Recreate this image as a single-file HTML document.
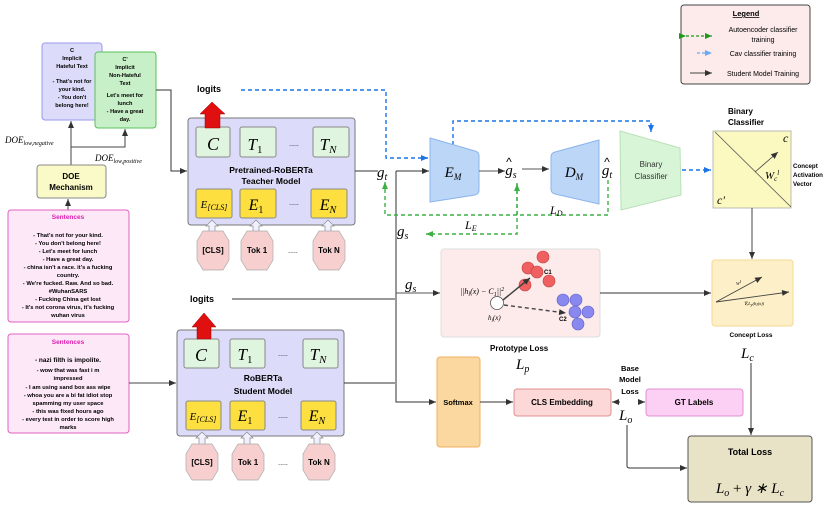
<!DOCTYPE html>
<html><head><meta charset="utf-8"><style>
html,body{margin:0;padding:0;background:#fff;}
svg{display:block;font-family:"Liberation Sans",sans-serif;}
.b{font-weight:bold;}
.m{font-family:"Liberation Serif",serif;font-style:italic;}
</style></head><body>
<svg width="831" height="509" viewBox="0 0 831 509" xmlns="http://www.w3.org/2000/svg">
<defs>
<marker id="ak" markerWidth="8" markerHeight="8" refX="7" refY="4" orient="auto" markerUnits="userSpaceOnUse"><path d="M0,1 L7,4 L0,7z" fill="#333"/></marker>
<marker id="ab" markerWidth="8" markerHeight="8" refX="7" refY="4" orient="auto" markerUnits="userSpaceOnUse"><path d="M0,1 L7,4 L0,7z" fill="#1a73e8"/></marker>
<marker id="ag" markerWidth="8" markerHeight="8" refX="7" refY="4" orient="auto" markerUnits="userSpaceOnUse"><path d="M0,1 L7,4 L0,7z" fill="#3cb043"/></marker>
<marker id="agd" markerWidth="8" markerHeight="8" refX="7" refY="4" orient="auto" markerUnits="userSpaceOnUse"><path d="M0,1 L7,4 L0,7z" fill="#1a9a1a"/></marker>
<marker id="alb" markerWidth="8" markerHeight="8" refX="7" refY="4" orient="auto" markerUnits="userSpaceOnUse"><path d="M0,1 L7,4 L0,7z" fill="#6aaaf0"/></marker>
</defs>

<!-- Legend -->
<rect x="681" y="5" width="129" height="79" rx="3" fill="#fdeaea" stroke="#444" stroke-width="1"/>
<text x="746" y="16" font-size="7.5" class="b" text-anchor="middle" text-decoration="underline">Legend</text>
<line x1="686" y1="36" x2="712" y2="36" stroke="#1a9a1a" stroke-width="1.3" stroke-dasharray="3,2" marker-end="url(#agd)" marker-start="url(#agd)"/>
<text x="763" y="32" font-size="7" text-anchor="middle">Autoencoder classifier</text>
<text x="763" y="42" font-size="7" text-anchor="middle">training</text>
<line x1="697" y1="53" x2="712" y2="53" stroke="#6aaaf0" stroke-width="1.3" stroke-dasharray="3,2" marker-end="url(#alb)"/>
<text x="763" y="56" font-size="7" text-anchor="middle">Cav classifier training</text>
<line x1="690" y1="73" x2="712" y2="73" stroke="#444" stroke-width="1" marker-end="url(#ak)"/>
<text x="763" y="76" font-size="7" text-anchor="middle">Student Model Training</text>

<!-- C / C' boxes -->
<rect x="42" y="43" width="60" height="77" rx="3" fill="#dcdcfa" stroke="#9a9aee" stroke-width="1"/>
<g font-size="5.6" class="b" text-anchor="middle">
<text x="72" y="52">C</text><text x="72" y="60">Implicit</text><text x="72" y="68">Hateful Text</text>
<text x="72" y="83">- That's not for</text><text x="72" y="91">your kind.</text><text x="72" y="99">- You don't</text><text x="72" y="107">belong here!</text>
</g>
<rect x="95" y="52" width="61" height="76" rx="3" fill="#c8f0c8" stroke="#5ac05a" stroke-width="1"/>
<g font-size="5.6" class="b" text-anchor="middle">
<text x="125" y="61">C'</text><text x="125" y="69">Implicit</text><text x="125" y="77">Non-Hateful</text><text x="125" y="85">Text</text>
<text x="125" y="97">Let's meet for</text><text x="125" y="105">lunch</text><text x="125" y="113">- Have a great</text><text x="125" y="121">day.</text>
</g>
<text x="5" y="143" font-size="9" class="m">DOE<tspan font-size="6" dy="2">low,negative</tspan></text>
<text x="95" y="161" font-size="9" class="m">DOE<tspan font-size="6" dy="2">low,positive</tspan></text>
<path d="M71,165 L71,121" stroke="#444" fill="none" marker-end="url(#ak)"/>
<path d="M71,147 L125,147 L125,129" stroke="#444" fill="none" marker-end="url(#ak)"/>
<path d="M156,90 L171,90 L171,171 L187,171" stroke="#333" fill="none" marker-end="url(#ak)"/>

<rect x="37" y="165" width="69" height="33" rx="3" fill="#fafac8" stroke="#888" stroke-width="1"/>
<text x="71" y="179" font-size="8" class="b" text-anchor="middle">DOE</text>
<text x="71" y="190" font-size="8" class="b" text-anchor="middle">Mechanism</text>
<path d="M68,210 L68,199" stroke="#444" fill="none" marker-end="url(#ak)"/>

<!-- Sentences 1 -->
<rect x="8" y="210" width="121" height="112" rx="3" fill="#fde8f8" stroke="#e060c0" stroke-width="1"/>
<g font-size="5.8" class="b" text-anchor="middle">
<text x="68" y="219" fill="#e020b0" font-size="6.5">Sentences</text>
<text x="68" y="237">- That's not for your kind.</text>
<text x="68" y="245">- You don't belong here!</text>
<text x="68" y="253">- Let's meet for lunch</text>
<text x="68" y="261">- Have a great day.</text>
<text x="68" y="269">- china isn't a race. it's a fucking</text>
<text x="68" y="277">country.</text>
<text x="68" y="285">- We're fucked. Raw. And so bad.</text>
<text x="68" y="293">#WuhanSARS</text>
<text x="68" y="301">- Fucking China get lost</text>
<text x="68" y="309">- It's not corona virus, it's fucking</text>
<text x="68" y="317">wuhan virus</text>
</g>
<!-- Sentences 2 -->
<rect x="8" y="334" width="121" height="99" rx="3" fill="#fde8f8" stroke="#e060c0" stroke-width="1"/>
<g font-size="5.8" class="b" text-anchor="middle">
<text x="68" y="344" fill="#e020b0" font-size="6.5">Sentences</text>
<text x="68" y="362" font-size="6.5">- nazi filth  is impolite.</text>
<text x="68" y="372">- wow   that was fast   i m</text>
<text x="68" y="380">impressed</text>
<text x="68" y="389">- I am using sand box ass wipe</text>
<text x="68" y="397">- whoa    you are a bi fat idiot  stop</text>
<text x="68" y="405">spamming my user space</text>
<text x="68" y="413">- this was fixed hours ago</text>
<text x="68" y="421">- every test in order to score high</text>
<text x="68" y="429">marks</text>
</g>
<path d="M129,383 L176,383" stroke="#444" fill="none" marker-end="url(#ak)"/>

<!-- Teacher -->
<rect x="188" y="118" width="167" height="107" rx="3" fill="#dcdcfa" stroke="#777" stroke-width="1"/>
<rect x="196" y="127" width="34" height="30" rx="2" fill="#e0f5e0" stroke="#888"/>
<rect x="240" y="127" width="36" height="30" rx="2" fill="#e0f5e0" stroke="#888"/>
<rect x="313" y="127" width="36" height="30" rx="2" fill="#e0f5e0" stroke="#888"/>
<text x="213" y="150" font-size="18" class="m" text-anchor="middle">C</text>
<text x="255" y="150" font-size="17" class="m" text-anchor="middle">T<tspan font-size="11" font-style="normal" dy="3">1</tspan></text>
<text x="328" y="150" font-size="17" class="m" text-anchor="middle">T<tspan font-size="11" dy="3">N</tspan></text>
<text x="294" y="146" font-size="7" text-anchor="middle">.....</text>
<text x="271" y="173" font-size="8.5" class="b" text-anchor="middle">Pretrained-RoBERTa</text>
<text x="271" y="184" font-size="8.5" class="b" text-anchor="middle">Teacher Model</text>
<rect x="196" y="189" width="36" height="29" rx="2" fill="#fde040" stroke="#888"/>
<rect x="240" y="189" width="36" height="29" rx="2" fill="#fde040" stroke="#888"/>
<rect x="311" y="189" width="36" height="29" rx="2" fill="#fde040" stroke="#888"/>
<text x="214" y="208" font-size="11" class="m" text-anchor="middle">E<tspan font-size="8" dy="2">[CLS]</tspan></text>
<text x="256" y="210" font-size="16" class="m" text-anchor="middle">E<tspan font-size="10" font-style="normal" dy="3">1</tspan></text>
<text x="328" y="210" font-size="16" class="m" text-anchor="middle">E<tspan font-size="10" dy="3">N</tspan></text>
<text x="294" y="205" font-size="7" text-anchor="middle">.....</text>
<path d="M205,128 L205,114 L200,114 L212,102 L225,114 L220,114 L220,128z" fill="#e01010" stroke="#900" stroke-width="0.5"/>
<text x="197" y="92" font-size="9" class="b">logits</text>
<!-- teacher tokens -->
<path d="M209,234 l0,-8 -3,0 6,-6 6,6 -3,0 0,8z" fill="#f0f0ff" stroke="#888" stroke-width="0.7"/>
<path d="M253,234 l0,-8 -3,0 6,-6 6,6 -3,0 0,8z" fill="#f0f0ff" stroke="#888" stroke-width="0.7"/>
<path d="M325,234 l0,-8 -3,0 6,-6 6,6 -3,0 0,8z" fill="#f0f0ff" stroke="#888" stroke-width="0.7"/>
<path d="M203,231 l20,0 6,10 0,19 -6,10 -20,0 -6,-10 0,-19z" fill="#f7cfcf" stroke="#aaa" stroke-width="0.7"/>
<path d="M247,231 l20,0 6,10 0,19 -6,10 -20,0 -6,-10 0,-19z" fill="#f7cfcf" stroke="#aaa" stroke-width="0.7"/>
<path d="M319,231 l20,0 6,10 0,19 -6,10 -20,0 -6,-10 0,-19z" fill="#f7cfcf" stroke="#aaa" stroke-width="0.7"/>
<text x="213" y="253" font-size="8" class="b" text-anchor="middle">[CLS]</text>
<text x="257" y="253" font-size="8" class="b" text-anchor="middle">Tok 1</text>
<text x="329" y="253" font-size="8" class="b" text-anchor="middle">Tok N</text>
<text x="293" y="253" font-size="7" text-anchor="middle">.....</text>

<!-- Student -->
<rect x="177" y="330" width="167" height="106" rx="3" fill="#dcdcfa" stroke="#777" stroke-width="1"/>
<rect x="184" y="339" width="35" height="29" rx="2" fill="#e0f5e0" stroke="#888"/>
<rect x="230" y="339" width="35" height="29" rx="2" fill="#e0f5e0" stroke="#888"/>
<rect x="303" y="339" width="35" height="29" rx="2" fill="#e0f5e0" stroke="#888"/>
<text x="201" y="361" font-size="18" class="m" text-anchor="middle">C</text>
<text x="245" y="360" font-size="17" class="m" text-anchor="middle">T<tspan font-size="11" font-style="normal" dy="3">1</tspan></text>
<text x="318" y="360" font-size="17" class="m" text-anchor="middle">T<tspan font-size="11" dy="3">N</tspan></text>
<text x="283" y="356" font-size="7" text-anchor="middle">.....</text>
<text x="263" y="381" font-size="8.5" class="b" text-anchor="middle">RoBERTa</text>
<text x="263" y="394" font-size="8.5" class="b" text-anchor="middle">Student Model</text>
<rect x="186" y="401" width="35" height="29" rx="2" fill="#fde040" stroke="#888"/>
<rect x="230" y="401" width="35" height="29" rx="2" fill="#fde040" stroke="#888"/>
<rect x="301" y="401" width="35" height="29" rx="2" fill="#fde040" stroke="#888"/>
<text x="203" y="420" font-size="11" class="m" text-anchor="middle">E<tspan font-size="8" dy="2">[CLS]</tspan></text>
<text x="245" y="421" font-size="16" class="m" text-anchor="middle">E<tspan font-size="10" font-style="normal" dy="3">1</tspan></text>
<text x="317" y="421" font-size="16" class="m" text-anchor="middle">E<tspan font-size="10" dy="3">N</tspan></text>
<text x="283" y="418" font-size="7" text-anchor="middle">.....</text>
<path d="M197,339 L197,327 L192,327 L204,313 L216,327 L211,327 L211,339z" fill="#e01010" stroke="#900" stroke-width="0.5"/>
<text x="190" y="302" font-size="9" class="b">logits</text>
<path d="M199,446 l0,-8 -3,0 6,-6 6,6 -3,0 0,8z" fill="#f0f0ff" stroke="#888" stroke-width="0.7"/>
<path d="M244,446 l0,-8 -3,0 6,-6 6,6 -3,0 0,8z" fill="#f0f0ff" stroke="#888" stroke-width="0.7"/>
<path d="M314,446 l0,-8 -3,0 6,-6 6,6 -3,0 0,8z" fill="#f0f0ff" stroke="#888" stroke-width="0.7"/>
<path d="M192,444 l20,0 6,10 0,16 -6,10 -20,0 -6,-10 0,-16z" fill="#f7cfcf" stroke="#aaa" stroke-width="0.7"/>
<path d="M238,444 l20,0 6,10 0,16 -6,10 -20,0 -6,-10 0,-16z" fill="#f7cfcf" stroke="#aaa" stroke-width="0.7"/>
<path d="M309,444 l20,0 6,10 0,16 -6,10 -20,0 -6,-10 0,-16z" fill="#f7cfcf" stroke="#aaa" stroke-width="0.7"/>
<text x="202" y="465" font-size="8" class="b" text-anchor="middle">[CLS]</text>
<text x="248" y="465" font-size="8" class="b" text-anchor="middle">Tok 1</text>
<text x="319" y="465" font-size="8" class="b" text-anchor="middle">Tok N</text>
<text x="283" y="465" font-size="7" text-anchor="middle">.....</text>

<!-- connectors middle -->
<path d="M355,171 L378,171" stroke="#333" fill="none"/>
<text x="377" y="177" font-size="15" class="m">g<tspan font-size="10" dy="3">t</tspan></text>
<path d="M396,171 L429,171" stroke="#333" fill="none" marker-end="url(#ak)"/>
<path d="M396,171 L396,402 L436,402" stroke="#333" fill="none" marker-end="url(#ak)"/>
<path d="M232,299 L395,299" stroke="#333" fill="none"/>
<path d="M344,383 L395,383" stroke="#333" fill="none"/>
<path d="M396,293 L440,293" stroke="#555" fill="none" marker-end="url(#ak)"/>
<text x="405" y="289" font-size="15" class="m">g<tspan font-size="10" dy="3">s</tspan></text>
<text x="397" y="236" font-size="15" class="m">g<tspan font-size="10" dy="3">s</tspan></text>

<!-- blue dashed -->
<path d="M241,90 L386,90 L386,158 L428,158" stroke="#1a73e8" stroke-width="1.4" stroke-dasharray="4,3" fill="none" marker-end="url(#ab)"/>
<path d="M453,145 L453,121 L651,121 L651,132" stroke="#1a73e8" stroke-width="1.4" stroke-dasharray="4,3" fill="none" marker-end="url(#ab)"/>
<path d="M682,170 L711,170" stroke="#1a73e8" stroke-width="1.4" stroke-dasharray="4,3" fill="none" marker-end="url(#ab)"/>

<!-- green dashed -->
<path d="M608,180 L608,215 L385,215 L385,182" stroke="#3cb043" stroke-width="1.4" stroke-dasharray="4,3" fill="none" marker-end="url(#ag)"/>
<path d="M517,183 L517,234 L426,234" stroke="#3cb043" stroke-width="1.4" stroke-dasharray="4,3" fill="none" marker-end="url(#ag)"/>
<path d="M517,215 L517,184" stroke="#3cb043" stroke-width="1.4" stroke-dasharray="4,3" fill="none" marker-end="url(#ag)"/>
<text x="550" y="214" font-size="12" class="m">L<tspan font-size="8" dy="2">D</tspan></text>
<text x="465" y="229" font-size="12" class="m">L<tspan font-size="8" dy="2">E</tspan></text>

<!-- Encoder / decoder -->
<path d="M430,138 L475,151 Q479,152 479,156 L479,190 Q479,194 475,195 L430,202z" fill="#bcd6f7" stroke="#8ab4ec" stroke-width="1"/>
<text x="453" y="177" font-size="15" class="m" text-anchor="middle">E<tspan font-size="9" dy="3">M</tspan></text>
<path d="M479,171 L505,171" stroke="#555" fill="none" marker-end="url(#ak)"/>
<text x="511" y="175" font-size="15" class="m" text-anchor="middle">g<tspan font-size="10" dy="3">s</tspan></text>
<text x="509" y="166" font-size="12" text-anchor="middle">^</text>
<path d="M522,169 L549,169" stroke="#555" fill="none" marker-end="url(#ak)"/>
<path d="M599,140 L555,152 Q551,153 551,157 L551,189 Q551,193 555,194 L599,204z" fill="#bcd6f7" stroke="#8ab4ec" stroke-width="1"/>
<text x="574" y="177" font-size="15" class="m" text-anchor="middle">D<tspan font-size="9" dy="3">M</tspan></text>
<text x="607" y="175" font-size="15" class="m" text-anchor="middle">g<tspan font-size="10" dy="3">t</tspan></text>
<text x="607" y="166" font-size="12" text-anchor="middle">^</text>

<!-- Binary classifier -->
<path d="M620,131 L680,148 L681,195 L621,210z" fill="#d8f5d8" stroke="#b8e0b8" stroke-width="1"/>
<text x="651" y="167" font-size="8" fill="#333" text-anchor="middle">Binary</text>
<text x="651" y="179" font-size="8" fill="#333" text-anchor="middle">Classifier</text>

<!-- yellow square -->
<text x="728" y="114" font-size="8" class="b">Binary</text>
<text x="728" y="125" font-size="8" class="b">Classifier</text>
<rect x="713" y="131" width="78" height="77" fill="#fbf8c0" stroke="#aaa" stroke-width="0.8"/>
<line x1="715" y1="132" x2="791" y2="207" stroke="#555" stroke-width="0.8"/>
<line x1="755" y1="172" x2="778" y2="152" stroke="#444" stroke-width="0.8" marker-end="url(#ak)"/>
<text x="765" y="179" font-size="11" class="m">W<tspan font-size="7" dy="2">c</tspan><tspan font-size="7" dy="-6">l</tspan></text>
<text x="783" y="142" font-size="12" class="m">c</text>
<text x="717" y="204" font-size="12" class="m">c'</text>
<text x="793" y="168" font-size="6.2" class="b">Concept</text>
<text x="793" y="177" font-size="6.2" class="b">Activation</text>
<text x="793" y="186" font-size="6.2" class="b">Vector</text>
<path d="M752,208 L752,259" stroke="#444" fill="none" marker-end="url(#ak)"/>

<!-- Prototype -->
<rect x="441" y="249" width="159" height="88" rx="3" fill="#fdeaea" stroke="#ddd" stroke-width="1"/>
<text x="460" y="294" font-size="8" class="m">||h<tspan font-size="6" dy="2">l</tspan><tspan dy="-2">(x) − C</tspan><tspan font-size="6" dy="2">1</tspan><tspan dy="-2">||</tspan><tspan font-size="6" dy="-3">2</tspan></text>
<g fill="#f06060" stroke="#c04040" stroke-width="0.6">
<circle cx="543" cy="257" r="6"/><circle cx="528" cy="268" r="6"/><circle cx="537" cy="272" r="6"/><circle cx="549" cy="281" r="6"/><circle cx="525" cy="285" r="6"/>
</g>
<g fill="#8888f0" stroke="#6060c0" stroke-width="0.6">
<circle cx="563" cy="300" r="6"/><circle cx="576" cy="300" r="6"/><circle cx="575" cy="312" r="6"/><circle cx="588" cy="312" r="6"/><circle cx="578" cy="324" r="6"/>
</g>
<text x="544" y="274" font-size="6" class="b">C1</text>
<text x="559" y="321" font-size="6" class="b">C2</text>
<circle cx="497" cy="303" r="6.5" fill="#fff" stroke="#444" stroke-width="0.7"/>
<line x1="503" y1="300" x2="530" y2="278" stroke="#444" stroke-width="1.5" marker-end="url(#ak)"/>
<line x1="504" y1="305" x2="566" y2="313" stroke="#444" stroke-width="1.4" stroke-dasharray="4,3" marker-end="url(#ak)"/>
<text x="488" y="320" font-size="7" class="m">h<tspan font-size="5" dy="2">l</tspan><tspan dy="-2">(x)</tspan></text>
<text x="490" y="351" font-size="8" class="b">Prototype Loss</text>
<text x="516" y="369" font-size="15" class="m">L<tspan font-size="10" dy="3">p</tspan></text>
<path d="M600,293 L711,293" stroke="#333" fill="none" marker-end="url(#ak)"/>

<!-- Concept loss -->
<rect x="712" y="260" width="81" height="66" rx="3" fill="#fdf0c8" stroke="#f5d890" stroke-width="1"/>
<line x1="716" y1="302" x2="762" y2="277" stroke="#444" stroke-width="0.9" marker-end="url(#ak)"/>
<line x1="716" y1="302" x2="789" y2="292" stroke="#444" stroke-width="0.9" marker-end="url(#ak)"/>
<text x="736" y="285" font-size="4.5" class="m">W<tspan dy="-2">l</tspan></text>
<text x="744" y="305" font-size="4.5" class="m">∇ₓL<tspan dy="1">y</tspan><tspan dy="-1">(h</tspan><tspan dy="1">l</tspan><tspan dy="-1">(x))</tspan></text>
<text x="751" y="337" font-size="6.5" class="b" text-anchor="middle">Concept Loss</text>
<text x="741" y="358" font-size="15" class="m">L<tspan font-size="10" dy="3">c</tspan></text>
<path d="M751,363 L751,435" stroke="#333" fill="none" marker-end="url(#ak)"/>

<!-- Softmax etc -->
<rect x="437" y="357" width="43" height="90" rx="3" fill="#fbd8a0" stroke="#f0b060" stroke-width="1"/>
<text x="458" y="405" font-size="7.5" class="b" text-anchor="middle">Softmax</text>
<path d="M480,402 L513,402" stroke="#333" fill="none" marker-end="url(#ak)"/>
<rect x="514" y="389" width="97" height="27" rx="3" fill="#fcd8d8" stroke="#e09090" stroke-width="1"/>
<text x="562" y="405" font-size="8" class="b" text-anchor="middle">CLS Embedding</text>
<rect x="646" y="389" width="97" height="27" rx="3" fill="#fcd0f4" stroke="#e090d0" stroke-width="1"/>
<text x="694" y="405" font-size="8" class="b" text-anchor="middle">GT Labels</text>
<line x1="620" y1="402" x2="612" y2="402" stroke="#333" marker-end="url(#ak)"/>
<line x1="638" y1="402" x2="645" y2="402" stroke="#333" marker-end="url(#ak)"/>
<text x="630" y="371" font-size="7.5" class="b" text-anchor="middle">Base</text>
<text x="630" y="382" font-size="7.5" class="b" text-anchor="middle">Model</text>
<text x="630" y="394" font-size="7.5" class="b" text-anchor="middle">Loss</text>
<text x="619" y="420" font-size="15" class="m">L<tspan font-size="10" dy="3">o</tspan></text>
<path d="M627,425 L627,466 Q627,468 630,468 L687,468" stroke="#333" fill="none" marker-end="url(#ak)"/>

<!-- Total loss -->
<rect x="688" y="436" width="124" height="66" rx="3" fill="#e8e2c6" stroke="#555" stroke-width="1"/>
<text x="750" y="455" font-size="9" class="b" text-anchor="middle">Total Loss</text>
<text x="750" y="493" font-size="15" class="m" text-anchor="middle">L<tspan font-size="10" dy="3">o</tspan><tspan dy="-3" font-style="normal"> + </tspan>γ ∗ L<tspan font-size="10" dy="3">c</tspan></text>
</svg>
</body></html>
